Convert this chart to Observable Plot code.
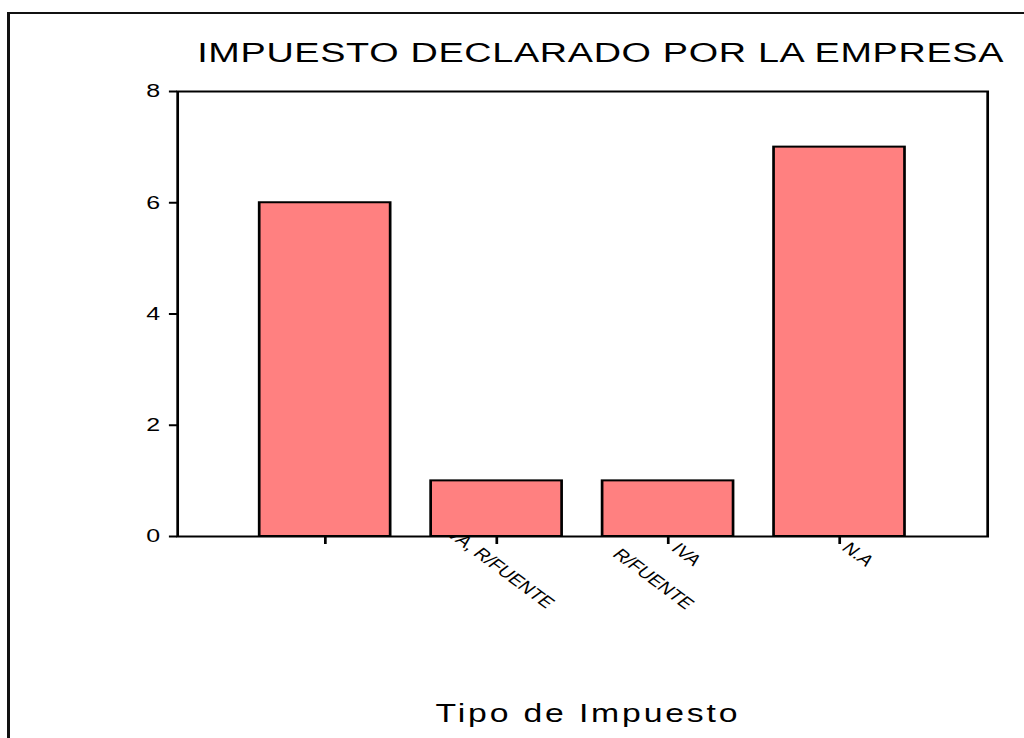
<!DOCTYPE html>
<html>
<head>
<meta charset="utf-8">
<script src="https://cdn.jsdelivr.net/npm/d3@7"></script>
<script src="https://cdn.jsdelivr.net/npm/@observablehq/plot@0.6"></script>
<style>
  html, body { margin: 0; padding: 0; background: white; width: 1024px; height: 738px; overflow: hidden; }
  #chart { position: absolute; left: 0; top: 0; }
  #border { position: absolute; left: 7px; top: 12px; width: 1100px; height: 800px;
            border-left: 3px solid #111; border-top: 2px solid #111; pointer-events: none; }
</style>
</head>
<body>
<div id="chart"></div>
<div id="border"></div>
<script>
// ---- data ----
const categories = ["Renta", "IVA, R/FUENTE", "IVA", "N.A"];
const counts = [6, 1, 1, 7];
const xLabels = ["", "\nIVA, R/FUENTE", "IVA\n\nR/FUENTE", "N.A"];
const yTicks = [0, 2, 4, 6, 8];
const title = "IMPUESTO DECLARADO POR LA EMPRESA";
const xTitle = "Tipo de Impuesto";

// ---- layout (the original chart is horizontally stretched) ----
const stretch = 1.35;
const W = 1024 / stretch;
const font = "'Liberation Sans', Arial, sans-serif";

const rows = categories.map((c, i) => ({cat: c, n: counts[i], label: xLabels[i]}));

const chart = Plot.plot({
  width: W,
  height: 738,
  marginLeft: 177 / stretch,
  marginRight: 37 / stretch,
  marginTop: 91,
  marginBottom: 202,
  style: {fontFamily: font, color: "black", background: "white"},
  x: {domain: categories, paddingInner: 0.238, paddingOuter: 0.474, axis: null},
  y: {domain: [0, 8], axis: null},
  marks: [
    // category labels (the parts above the axis are hidden by the white plot area)
    Plot.text(rows, {
      x: "cat", text: "label", frameAnchor: "bottom",
      textAnchor: "middle", lineAnchor: "top", lineHeight: 1.12,
      rotate: 45, fontSize: 15.5, dx: 18.7, dy: 12.8, fill: "black"
    }),
    Plot.frame({fill: "white"}),
    Plot.barY(rows, {x: "cat", y: "n", fill: "#ff8080", stroke: "black", strokeWidth: 2}),
    Plot.frame({stroke: "black", strokeWidth: 2}),
    Plot.axisY({ticks: yTicks, tickSize: 6, tickFormat: () => "", label: null, strokeWidth: 2}),
    Plot.text(yTicks, {y: d => d, frameAnchor: "left", dx: -13, textAnchor: "end",
      text: d => String(d), fontSize: 18.5, fill: "black"}),
    Plot.axisX({tickSize: 8, tickFormat: () => "", label: null, strokeWidth: 2}),
    Plot.text([title], {frameAnchor: "top", dy: -30, dx: 13.3, lineAnchor: "bottom",
      fontSize: 28, fill: "black"}),
    Plot.text([xTitle], {frameAnchor: "bottom", dy: 185, dx: 3.9, lineAnchor: "bottom",
      fontSize: 25, fill: "black"})
  ]
});

d3.select(chart).selectAll("text").each(function() {
  const t = this.textContent;
  if (t === title) this.style.letterSpacing = "0.5px";
  if (t === xTitle) this.style.letterSpacing = "2.1px";
});

chart.setAttribute("width", 1024);
chart.setAttribute("height", 738);
chart.setAttribute("preserveAspectRatio", "none");
chart.style.width = "1024px";
chart.style.height = "738px";
chart.style.maxWidth = "none";
document.getElementById("chart").appendChild(chart);
</script>
</body>
</html>
